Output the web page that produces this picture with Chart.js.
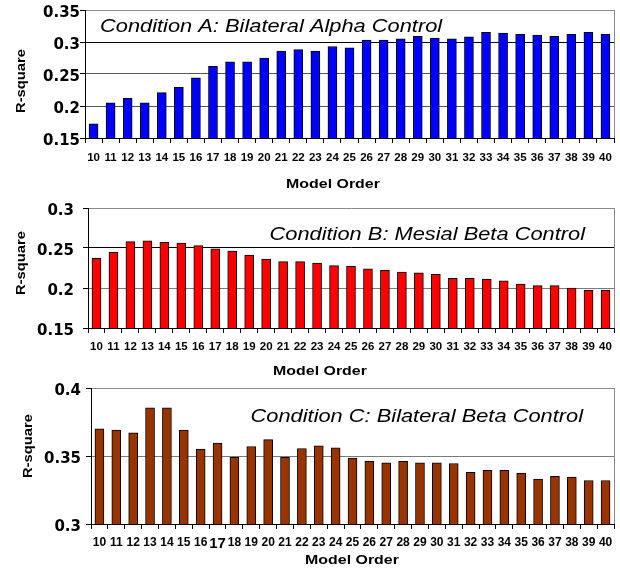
<!DOCTYPE html>
<html>
<head>
<meta charset="utf-8">
<script src="https://cdn.jsdelivr.net/npm/chart.js@4/dist/chart.umd.min.js"></script>
<style>
  html, body { margin: 0; padding: 0; background: #fff; }
  #wrap { position: relative; width: 620px; height: 569px; overflow: hidden; }
  canvas { position: absolute; left: 0; }
</style>
</head>
<body>
<div id="wrap">
  <canvas id="cA" width="620" height="190" style="top:0px"></canvas>
  <canvas id="cB" width="620" height="188" style="top:190px"></canvas>
  <canvas id="cC" width="620" height="195" style="top:374px"></canvas>
</div>
<script>
// Model orders on the x axis
const modelOrders = [10, 11, 12, 13, 14, 15, 16, 17, 18, 19, 20, 21, 22, 23, 24, 25,
                     26, 27, 28, 29, 30, 31, 32, 33, 34, 35, 36, 37, 38, 39, 40];

// R-square per model order, one series per condition
const bilateralAlpha = [0.172, 0.205, 0.212, 0.205, 0.221, 0.229, 0.244, 0.262, 0.269, 0.269,
                        0.275, 0.286, 0.288, 0.286, 0.293, 0.291, 0.303, 0.303, 0.305, 0.309,
                        0.306, 0.305, 0.308, 0.315, 0.314, 0.312, 0.311, 0.309, 0.312, 0.315, 0.312];
const mesialBeta = [0.237, 0.245, 0.258, 0.259, 0.257, 0.256, 0.253, 0.249, 0.246, 0.241,
                    0.236, 0.233, 0.233, 0.231, 0.228, 0.227, 0.224, 0.222, 0.220, 0.219,
                    0.217, 0.212, 0.212, 0.211, 0.209, 0.205, 0.203, 0.203, 0.200, 0.197, 0.197];
const bilateralBeta = [0.370, 0.369, 0.367, 0.3855, 0.3855, 0.369, 0.355, 0.3595, 0.349, 0.357,
                       0.362, 0.349, 0.3555, 0.3575, 0.356, 0.3485, 0.346, 0.345, 0.346, 0.345,
                       0.345, 0.3445, 0.338, 0.3395, 0.3395, 0.3375, 0.333, 0.335, 0.3345, 0.332, 0.332];

// Y tick labels, bottom to top
const yTicksA = ['0.15', '0.2', '0.25', '0.3', '0.35'];
const yTicksB = ['0.15', '0.2', '0.25', '0.3'];
const yTicksC = ['0.3', '0.35', '0.4'];

const titleA = 'Condition A: Bilateral Alpha Control';
const titleB = 'Condition B: Mesial Beta Control';
const titleC = 'Condition C: Bilateral Beta Control';
const xTitle = 'Model Order';
const yTitle = 'R-square';

// Draws text slightly widened, like the original sheet's fonts
function wideText(ctx, text, x, y, font, align, rotate) {
  ctx.save();
  ctx.translate(x, y);
  if (rotate) ctx.rotate(-Math.PI / 2);
  ctx.scale(1.18, 1);
  ctx.font = font;
  ctx.fillStyle = '#000';
  ctx.textAlign = align;
  ctx.textBaseline = 'alphabetic';
  ctx.fillText(text, 0, 0);
  ctx.restore();
}

// Plot-area frame on the right, panel caption and axis titles
const decor = {
  id: 'decor',
  afterDraw(chart, args, o) {
    const ctx = chart.ctx, a = chart.chartArea;
    ctx.save();
    ctx.strokeStyle = '#8a8a8a';
    ctx.lineWidth = 1;
    ctx.beginPath();
    ctx.moveTo(a.right + 0.5, a.top);
    ctx.lineTo(a.right + 0.5, a.bottom);
    ctx.stroke();
    ctx.restore();
    const tx = o.titleAlign === 'left' ? a.left + o.titleDx : a.right - o.titleDx;
    wideText(ctx, o.title, tx, a.top + o.titleDy, 'italic 18.5px "Liberation Sans", Arial, sans-serif', o.titleAlign, false);
    wideText(ctx, xTitle, a.left + o.xTitleDx, a.bottom + o.xTitleDy, 'bold 13.5px "Liberation Sans", Arial, sans-serif', 'center', false);
    wideText(ctx, yTitle, o.yTitleX, (a.top + a.bottom) / 2 + o.yTitleDy, 'bold 12.5px "Liberation Sans", Arial, sans-serif', 'center', true);
  }
};

function makeChart(id, values, color, cfg) {
  const canvas = document.getElementById(id);
  const H = canvas.height;
  return new Chart(canvas, {
    type: 'bar',
    data: {
      labels: modelOrders,
      datasets: [{
        data: values,
        backgroundColor: color,
        borderColor: '#000',
        borderWidth: 1,
        borderSkipped: 'start',
        barThickness: 9
      }]
    },
    options: {
      responsive: false,
      animation: false,
      devicePixelRatio: 1,
      layout: { padding: { top: cfg.top, right: 6, left: 0, bottom: 0 } },
      plugins: {
        legend: { display: false },
        tooltip: { enabled: false },
        decor: cfg.decor
      },
      scales: {
        x: {
          grid: {
            display: true, drawOnChartArea: false, drawTicks: true,
            tickLength: 5, tickColor: '#000', offset: true
          },
          border: { display: true, color: '#000', width: 1 },
          ticks: {
            autoSkip: false, maxRotation: 0, minRotation: 0,
            padding: cfg.xPad, color: '#000',
            font: cfg.xFont
          },
          afterFit(scale) { scale.height = H - cfg.bottom; }
        },
        y: {
          min: cfg.min, max: cfg.max,
          ticks: {
            stepSize: 0.05, color: '#000', padding: cfg.yPad, labelOffset: 3,
            font: { family: '"DejaVu Sans", sans-serif', size: 15, weight: 'bold' },
            callback: (v, i) => cfg.yTicks[i]
          },
          grid: {
            display: true, drawTicks: true, tickLength: 5, tickColor: '#000',
            color: (c) => cfg.gridColors[c.index] || '#777',
            lineWidth: 1
          },
          border: { display: true, color: '#000', width: 1 },
          afterFit(scale) { scale.width = cfg.left; }
        }
      }
    },
    plugins: [decor]
  });
}

const xFont = { family: '"Liberation Sans", Arial, sans-serif', size: 11.5, weight: 'bold' };

makeChart('cA', bilateralAlpha, '#0000ff', {
  top: 10, bottom: 138, left: 85, min: 0.15, max: 0.35, yTicks: yTicksA, yPad: 0, xPad: 8,
  xFont: xFont,
  gridColors: ['#000', '#555', '#555', '#000', '#8a8a8a'],
  decor: { title: titleA, titleAlign: 'left', titleDx: 15, titleDy: 21.5,
           xTitleDx: 248, xTitleDy: 50, yTitleX: 25, yTitleDy: 7 }
});

makeChart('cB', mesialBeta, '#ff0000', {
  top: 10, bottom: 138, left: 88, min: 0.15, max: 0.30, yTicks: yTicksB, yPad: 9, xPad: 7,
  xFont: xFont,
  gridColors: ['#000', '#7a7a7a', '#000', '#8a8a8a'],
  decor: { title: titleB, titleAlign: 'right', titleDx: 29, titleDy: 32,
           xTitleDx: 232, xTitleDy: 47, yTitleX: 25, yTitleDy: -5 }
});

makeChart('cC', bilateralBeta, '#993300', {
  top: 11, bottom: 150, left: 91, min: 0.30, max: 0.40, yTicks: yTicksC, yPad: 5, xPad: 6,
  xFont: (c) => c.index === 7
    ? { family: '"Liberation Sans", Arial, sans-serif', size: 15, weight: 'bold' }
    : { family: '"Liberation Sans", Arial, sans-serif', size: 12, weight: 'bold' },
  gridColors: ['#000', '#7a7a7a', '#8a8a8a'],
  decor: { title: titleC, titleAlign: 'right', titleDx: 31, titleDy: 34,
           xTitleDx: 261, xTitleDy: 40, yTitleX: 32, yTitleDy: -10 }
});
</script>
</body>
</html>
